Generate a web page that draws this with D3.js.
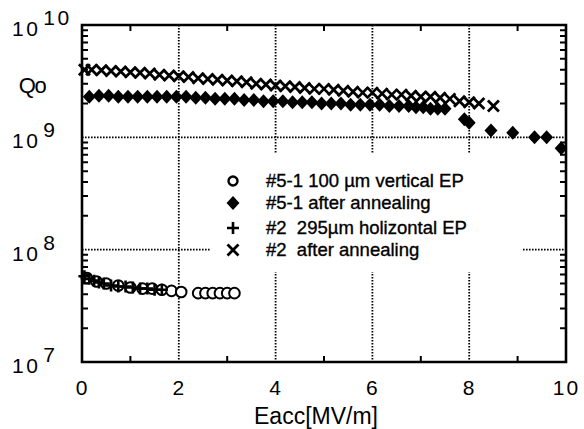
<!DOCTYPE html>
<html>
<head>
<meta charset="utf-8">
<script src="https://cdn.jsdelivr.net/npm/d3@7"></script>
<style>
  body { margin: 0; background: #fff; }
  svg { display: block; }
  text { font-family: "Liberation Sans", Arial, Helvetica, sans-serif; fill: #000; }
</style>
</head>
<body>
<svg id="chart" width="584" height="429"></svg>
<script>
// Axis ticks
const eaccTicks = [0, 2, 4, 6, 8, 10];
const eaccMinor = [1, 3, 5, 7, 9];
const qExponents = [7, 8, 9, 10];
const gridE = [2, 4, 6, 8];
const gridQ = [1e8, 1e9];

// Legend labels
const seriesNames = [
  "#5-1 100 µm vertical EP",
  "#5-1 after annealing",
  "#2  295µm holizontal EP",
  "#2  after annealing"
];

// #5-1, 100 µm vertical EP (open circles)
const vertEpE = [0.1, 0.3, 0.5, 0.75, 1.0, 1.25, 1.45, 1.65, 1.85, 2.05, 2.4, 2.55, 2.7, 2.85, 3.0, 3.15];
const vertEpQ = [5.6e7, 5.2e7, 5.0e7, 4.8e7, 4.6e7, 4.5e7, 4.5e7, 4.4e7, 4.3e7, 4.2e7, 4.1e7, 4.1e7, 4.1e7, 4.1e7, 4.1e7, 4.1e7];

// #5-1 after annealing (filled diamonds)
const vertAnnE = [0.15, 0.35, 0.55, 0.75, 0.95, 1.15, 1.35, 1.55, 1.75, 1.95, 2.15, 2.35, 2.55, 2.75, 2.95, 3.15,
  3.35, 3.55, 3.75, 3.95, 4.15, 4.35, 4.55, 4.75, 4.95, 5.15, 5.35, 5.55, 5.75, 5.95, 6.15, 6.35, 6.55, 6.75,
  6.9, 7.05, 7.2, 7.35, 7.5, 7.9, 8.0, 8.45, 8.9, 9.35, 9.6, 9.9];
const vertAnnQ = [2.3e9, 2.35e9, 2.35e9, 2.3e9, 2.3e9, 2.3e9, 2.3e9, 2.3e9, 2.3e9, 2.3e9, 2.3e9, 2.25e9, 2.25e9, 2.2e9, 2.2e9, 2.2e9,
  2.15e9, 2.15e9, 2.1e9, 2.1e9, 2.1e9, 2.05e9, 2.05e9, 2.05e9, 2.0e9, 2.0e9, 2.0e9, 1.95e9, 1.95e9, 1.95e9, 1.95e9, 1.9e9, 1.9e9, 1.9e9,
  1.85e9, 1.85e9, 1.8e9, 1.8e9, 1.8e9, 1.45e9, 1.35e9, 1.15e9, 1.1e9, 1.0e9, 1.0e9, 0.8e9];

// #2, 295 µm horizontal EP (plus)
const horizEpE = [0.05, 0.15, 0.25, 0.35, 0.45, 0.6, 0.75, 0.9, 1.05, 1.2, 1.35, 1.5, 1.65];
const horizEpQ = [5.8e7, 5.5e7, 5.3e7, 5.1e7, 5.0e7, 4.8e7, 4.7e7, 4.7e7, 4.6e7, 4.5e7, 4.5e7, 4.4e7, 4.4e7];

// #2 after annealing (crosses)
const horizAnnE = [0.05, 0.2, 0.4, 0.6, 0.8, 1.0, 1.2, 1.4, 1.6, 1.8, 2.0, 2.2, 2.4, 2.6, 2.8, 3.0, 3.2, 3.4, 3.6, 3.8,
  4.0, 4.2, 4.4, 4.6, 4.8, 5.0, 5.2, 5.4, 5.6, 5.8, 6.0, 6.2, 6.4, 6.6, 6.8, 7.0, 7.2, 7.4, 7.6, 7.8, 8.0, 8.2, 8.5];
const horizAnnQ = [4.0e9, 4.0e9, 3.95e9, 3.9e9, 3.85e9, 3.8e9, 3.75e9, 3.7e9, 3.6e9, 3.55e9, 3.5e9, 3.45e9, 3.35e9, 3.3e9,
  3.25e9, 3.2e9, 3.15e9, 3.1e9, 3.0e9, 2.95e9, 2.9e9, 2.85e9, 2.8e9, 2.75e9, 2.7e9, 2.7e9, 2.65e9, 2.6e9, 2.55e9, 2.5e9,
  2.5e9, 2.45e9, 2.4e9, 2.4e9, 2.35e9, 2.3e9, 2.3e9, 2.25e9, 2.2e9, 2.1e9, 2.05e9, 2.0e9, 1.9e9];

const plotLeft = 82, plotRight = 566, plotTop = 25, plotBottom = 362;
const x = d3.scaleLinear().domain([0, 10]).range([plotLeft, plotRight]);
const y = d3.scaleLog().domain([1e7, 1e10]).range([plotBottom, plotTop]);

const svg = d3.select("#chart");
svg.append("rect").attr("width", 584).attr("height", 429).attr("fill", "#fff");
const fig = svg.append("g");

// Dotted grid lines
const grid = fig.append("g").attr("stroke", "#000").attr("stroke-width", 1.8).attr("stroke-dasharray", "1.6,1.4");
grid.selectAll("line.v").data(gridE).join("line").attr("class", "v")
  .attr("x1", d => x(d)).attr("x2", d => x(d)).attr("y1", plotTop).attr("y2", plotBottom);
grid.selectAll("line.h").data(gridQ).join("line").attr("class", "h")
  .attr("x1", plotLeft).attr("x2", plotRight).attr("y1", d => y(d)).attr("y2", d => y(d));

// Legend background hides the grid behind it
fig.append("rect").attr("x", 211).attr("y", 154).attr("width", 311).attr("height", 118).attr("fill", "#fff");

// Marker shapes
function drawMarker(sel, kind) {
  if (kind === "circle") {
    sel.append("circle").attr("r", 5.3).attr("fill", "#fff").attr("stroke", "#000").attr("stroke-width", 2);
  } else if (kind === "diamond") {
    sel.append("path").attr("d", "M0,-7L6.5,0L0,7L-6.5,0Z").attr("fill", "#000");
  } else if (kind === "plus") {
    sel.append("path").attr("d", "M-6,0H6M0,-6V6").attr("stroke", "#000").attr("stroke-width", 2.6).attr("fill", "none");
  } else {
    sel.append("path").attr("d", "M-5.5,-5.5L5.5,5.5M-5.5,5.5L5.5,-5.5").attr("stroke", "#000").attr("stroke-width", 2.8).attr("fill", "none");
  }
}

const series = [
  { name: seriesNames[0], kind: "circle", e: vertEpE, q: vertEpQ },
  { name: seriesNames[1], kind: "diamond", e: vertAnnE, q: vertAnnQ },
  { name: seriesNames[2], kind: "plus", e: horizEpE, q: horizEpQ },
  { name: seriesNames[3], kind: "cross", e: horizAnnE, q: horizAnnQ }
];

const defs = svg.append("defs");
defs.append("clipPath").attr("id", "plotClip").append("rect")
  .attr("x", plotLeft - 8).attr("y", plotTop - 8)
  .attr("width", plotRight - plotLeft + 8).attr("height", plotBottom - plotTop + 16);
const pts = fig.append("g").attr("clip-path", "url(#plotClip)");
series.forEach(s => {
  const data = s.e.map((e, i) => ({ e, q: s.q[i] }));
  pts.append("g").selectAll("g").data(data).join("g")
    .attr("transform", d => `translate(${x(d.e)},${y(d.q)})`)
    .each(function () { drawMarker(d3.select(this), s.kind); });
});

// Frame: a filled ring (outer box minus inner box)
const fw = 2.6, tw = 2, tl = 6;
const ring = d3.path();
ring.rect(plotLeft - fw / 2, plotTop - fw / 2, plotRight - plotLeft + fw, plotBottom - plotTop + fw);
ring.rect(plotLeft + fw / 2, plotTop + fw / 2, plotRight - plotLeft - fw, plotBottom - plotTop - fw);
fig.append("path").attr("d", ring.toString()).attr("fill", "#000").attr("fill-rule", "evenodd");

// Inward minor ticks on all four sides, as small filled bars
const minorQ = y.ticks().filter(v => Math.abs(Math.log10(v) - Math.round(Math.log10(v))) > 1e-6);
const tickInk = d3.path();
minorQ.forEach(v => {
  tickInk.rect(plotLeft, y(v) - tw / 2, tl, tw);
  tickInk.rect(plotRight - tl, y(v) - tw / 2, tl, tw);
});
eaccMinor.forEach(v => {
  tickInk.rect(x(v) - tw / 2, plotBottom - tl, tw, tl);
  tickInk.rect(x(v) - tw / 2, plotTop, tw, tl);
});
fig.append("path").attr("d", tickInk.toString()).attr("fill", "#000");

// X axis labels
const xAxis = d3.axisBottom(x).tickValues(eaccTicks).tickSize(0).tickPadding(18).tickFormat(d3.format("d"));
const xa = fig.append("g").attr("transform", `translate(0,${plotBottom})`).call(xAxis);
xa.select(".domain").remove();
xa.selectAll("text").attr("font-size", 21).attr("letter-spacing", "2px")
  .style("font-family", "'Liberation Sans', Arial, sans-serif");

// Y axis labels as powers of ten
const yl = fig.append("g").selectAll("text").data(qExponents).join("text")
  .attr("x", 12).attr("y", d => y(Math.pow(10, d)) + 11).attr("font-size", 21);
yl.append("tspan").attr("letter-spacing", "2.5px").text("10");
yl.append("tspan").attr("dx", 3).attr("dy", -11).attr("letter-spacing", "2.5px").text(d => d);

// Axis titles
fig.append("text").attr("x", 32).attr("y", 93).attr("text-anchor", "middle").attr("font-size", 22)
  .attr("letter-spacing", "-1.5px").text("Qo");
fig.append("text").attr("x", 316).attr("y", 424).attr("text-anchor", "middle").attr("font-size", 23).text("Eacc[MV/m]");

// Legend
const legY = [181, 203, 228, 250];
const leg = fig.append("g").selectAll("g").data(series).join("g")
  .attr("transform", (d, i) => `translate(0,${legY[i]})`);
leg.append("g").attr("transform", "translate(233,0)").each(function (d) {
  const m = d3.select(this);
  if (d.kind === "circle") {
    m.append("circle").attr("r", 4.5).attr("fill", "#fff").attr("stroke", "#000").attr("stroke-width", 2.4);
  } else drawMarker(m, d.kind);
});
leg.append("text").attr("x", 266).attr("y", 6).attr("font-size", 18.5).style("white-space", "pre")
  .attr("stroke", "#000").attr("stroke-width", 0.35).text(d => d.name);
</script>
</body>
</html>
